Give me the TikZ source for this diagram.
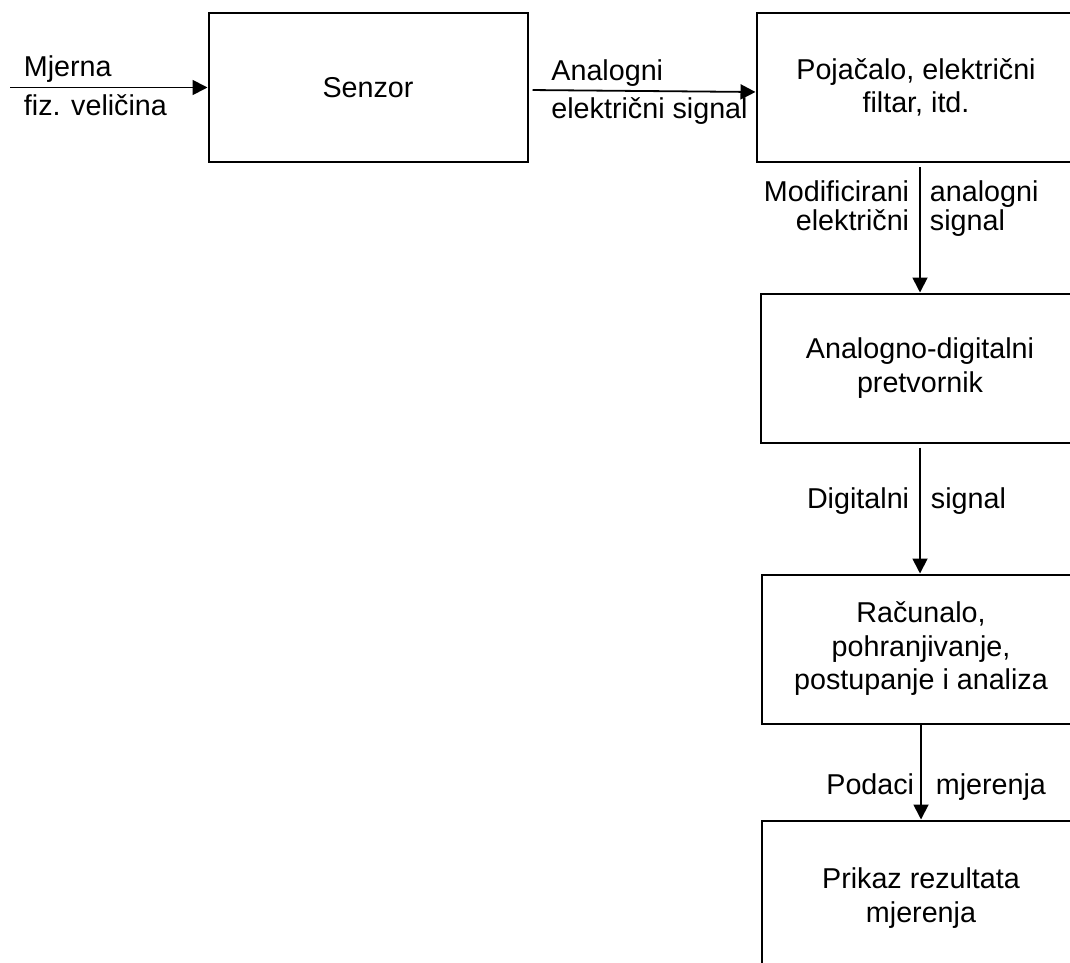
\documentclass[tikz,border=0pt]{standalone}
\usepackage{fontspec}
\setmainfont{Liberation Sans}
\usetikzlibrary{shapes,arrows.meta}
\tikzstyle{block} = [rectangle, draw, line width=2pt, text centered, align=center,
    minimum width=319pt, minimum height=149pt, font=\fontsize{28.7}{33.5}\selectfont]
\tikzstyle{arrow} = [draw, line width=1.8pt, -{Triangle[length=15pt,width=15pt]}]
\tikzstyle{sig} = [inner sep=0pt, font=\fontsize{28.7}{33.5}\selectfont]

\begin{document}
\begin{tikzpicture}[x=1pt, y=-1pt]

    \clip (0,0) rectangle (1070,963);
    \fill [white] (0,0) rectangle (1070,963);

    % Place nodes
    \node [block] (senzor) at (368,87.5) {Senzor};
    \node [block] (pojacalo) at (916,87.5) {Pojačalo, električni\\filtar, itd.};
    \node [block] (adc) at (920,368) {Analogno-digitalni\\pretvornik};
    \node [block] (racunalo) at (921,649) {Računalo,\\pohranjivanje,\\postupanje i analiza};
    \node [block, minimum height=155pt] (prikaz) at (921,898) {Prikaz rezultata\\mjerenja};
    \coordinate (ulaz) at (10,87.5);

    % Draw edges
    \path [arrow]
    (ulaz)
    -- node [sig, pos=0, anchor=base west, xshift=13pt, yshift=11pt] {Mjerna}
       node [sig, pos=0, anchor=base west, xshift=13pt, yshift=-28pt] {fiz. veličina}
    (senzor.west);

    \path [arrow, shorten <=4pt]
    ([yshift=-2.5pt] senzor.east)
    -- node [sig, pos=0, anchor=base west, xshift=22pt, yshift=9pt] {Analogni}
       node [sig, pos=0, anchor=base west, xshift=22pt, yshift=-28pt] {električni signal}
    ([yshift=-4.5pt] pojacalo.west);

    \path [arrow, shorten <=4pt]
    (adc.north |- pojacalo.south)
    -- node [sig, pos=0, anchor=base east, xshift=-10pt, yshift=-38pt] {Modificirani}
       node [sig, pos=0, anchor=base west, xshift=9pt, yshift=-38pt] {analogni}
       node [sig, pos=0, anchor=base east, xshift=-10pt, yshift=-67pt] {električni}
       node [sig, pos=0, anchor=base west, xshift=9pt, yshift=-67pt] {signal}
    (adc.north);

    \path [arrow, shorten <=4pt]
    (adc.south)
    -- node [sig, pos=0, anchor=base east, xshift=-10pt, yshift=-65pt] {Digitalni}
       node [sig, pos=0, anchor=base west, xshift=10pt, yshift=-65pt] {signal}
    (adc.south |- racunalo.north);

    \path [arrow]
    (racunalo.south)
    -- node [sig, pos=0, anchor=base east, xshift=-6pt, yshift=-70pt] {Podaci}
       node [sig, pos=0, anchor=base west, xshift=14pt, yshift=-70pt] {mjerenja}
    (prikaz.north);

\end{tikzpicture}
\end{document}
